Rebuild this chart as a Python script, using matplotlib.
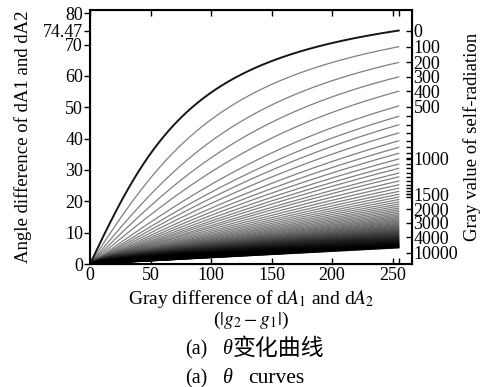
import numpy as np
import matplotlib
matplotlib.use("Agg")
import matplotlib.pyplot as plt

plt.rcParams["font.family"] = ["Liberation Serif", "Noto Sans CJK SC"]
plt.rcParams["mathtext.fontset"] = "stix"

# gray difference |g2 - g1| (x axis samples)
gray_diff = np.arange(0, 256)

# angle (deg) reached by each curve at |g2-g1| = 255, read off the right edge
# one curve per self-radiation step, top (0) to bottom (10000)
end_angle = [
    74.47, 69.3, 64.3, 59.7, 55.1, 50.4, 47.1, 44.4, 41.8, 39.3,
    37.2, 35.3, 33.5, 31.9, 30.5, 29.0, 27.8, 26.48, 25.28, 24.18,
    23.16, 22.23, 21.36, 20.56, 19.81, 19.11, 18.46, 17.85, 17.28, 16.74,
    16.23, 15.75, 15.30, 14.88, 14.47, 14.09, 13.73, 13.38, 13.05, 12.74,
    12.44, 12.15, 11.88, 11.62, 11.37, 11.13, 10.90, 10.68, 10.47, 10.26,
    10.07, 9.88, 9.70, 9.52, 9.35, 9.19, 9.03, 8.88, 8.73, 8.59,
    8.45, 8.32, 8.19, 8.06, 7.94, 7.82, 7.71, 7.60, 7.49, 7.38,
    7.28, 7.18, 7.08, 6.99, 6.90, 6.81, 6.72, 6.64, 6.55, 6.47,
    6.39, 6.32, 6.24, 6.17, 6.09, 6.02, 5.96, 5.89, 5.82, 5.76,
    5.70, 5.64, 5.58, 5.52, 5.46, 5.40, 5.35, 5.29, 5.24, 5.19,
    5.14,
]

# right axis labels (self-radiation gray value) and where they sit
right_labels = ["0", "100", "200", "300", "400", "500",
                "1000", "1500", "2000", "3000", "4000", "10000"]
right_pos = [74.47, 69.3, 64.3, 59.7, 55.1, 50.2,
             33.8, 22.2, 17.4, 13.1, 8.6, 3.6]

left_ticks = [0, 10, 20, 30, 40, 50, 60, 70, 74.47, 80]
left_labels = ["0", "10", "20", "30", "40", "50", "60", "70", "74.47", "80"]
x_ticks = [0, 50, 100, 150, 200, 250, 255]
x_labels = ["0", "50", "100", "150", "200", "250", ""]

fig = plt.figure(figsize=(4.83, 3.87), dpi=100)
ax = fig.add_axes([0.1863, 0.3178, 0.853 - 0.1863, 0.974 - 0.3178])

# --- curves: theta = arctan(|g2-g1| / K), K fixed by the end angle ---
for i, a in enumerate(end_angle):
    theta = np.degrees(np.arctan(gray_diff * np.tan(np.radians(a)) / 255.0))
    if i == 0:
        ax.plot(gray_diff, theta, color="#151515", linewidth=1.4, zorder=3)
    else:
        ax.plot(gray_diff, theta, color="black", alpha=0.5, linewidth=0.9)

ax.set_xlim(0, 266)
ax.set_ylim(0, 81)
ax.set_xticks(x_ticks)
ax.set_xticklabels(x_labels)
ax.set_yticks(left_ticks)
ax.set_yticklabels(left_labels)
ax.tick_params(axis="x", direction="in", top=True, length=4, width=1,
               labelsize=13, pad=2)
ax.tick_params(axis="y", direction="out", length=4, width=1,
               labelsize=13, pad=1)
for s in ax.spines.values():
    s.set_linewidth(1.5)

ax.set_ylabel("Angle difference of dA1 and dA2", fontsize=13.5, labelpad=8)
ax.set_xlabel("Gray difference of d$A_1$ and d$A_2$\n($|g_2 - g_1|$)",
              fontsize=14, labelpad=3, linespacing=1.0)

# --- right axis: self-radiation gray value ---
ax2 = ax.twinx()
ax2.set_ylim(ax.get_ylim())
ax2.set_yticks(right_pos)
ax2.set_yticklabels(right_labels)
ax2.set_yticks(end_angle[6:23], minor=True)
ax2.tick_params(axis="y", which="both", direction="in", length=4, width=1,
                labelsize=13, pad=1)
ax2.set_ylabel("Gray value of self-radiation", fontsize=13.5, labelpad=4)

# --- captions ---
fig.text(0.383, 0.097, "(a)", fontsize=14.5, va="center")
fig.text(0.459, 0.097, "θ", fontsize=14.5, style="italic", va="center")
fig.text(0.482, 0.097, "变化曲线", fontsize=16.5, va="center")
fig.text(0.383, 0.022, "(a)", fontsize=14.5, va="center")
fig.text(0.459, 0.022, "θ", fontsize=14.5, style="italic", va="center")
fig.text(0.513, 0.022, "curves", fontsize=15.5, va="center")

fig.savefig("out.png", dpi=100)
